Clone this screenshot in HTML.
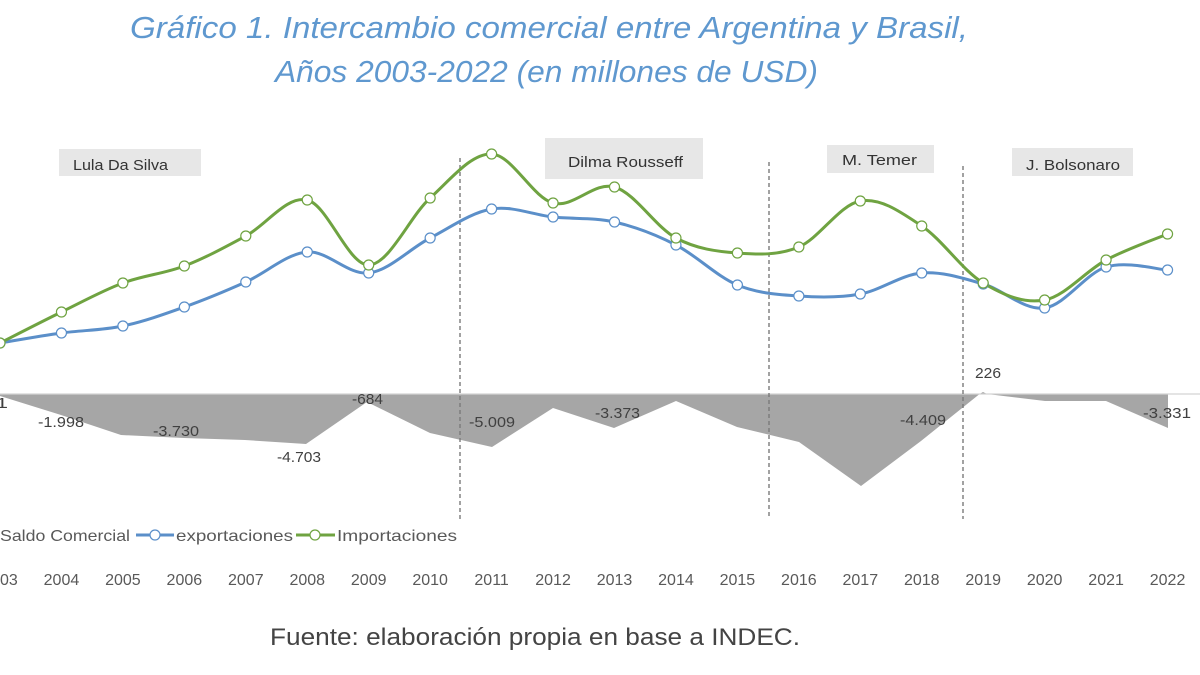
<!DOCTYPE html>
<html><head><meta charset="utf-8"><style>
html,body{margin:0;padding:0;background:#fff;width:1200px;height:675px;overflow:hidden}
svg{display:block}
text{font-family:"Liberation Sans",sans-serif}
</style></head><body>
<svg id="c" width="1200" height="675" viewBox="0 0 1200 675" xmlns="http://www.w3.org/2000/svg">
<rect width="1200" height="675" fill="#fff"/>
<!-- Title -->
<text x="130" y="38" font-size="31" font-style="italic" fill="#5f98cf" textLength="838" lengthAdjust="spacingAndGlyphs">Gráfico 1. Intercambio comercial entre Argentina y Brasil,</text>
<text x="275" y="82" font-size="31" font-style="italic" fill="#5f98cf" textLength="543" lengthAdjust="spacingAndGlyphs">Años 2003-2022 (en millones de USD)</text>

<!-- Saldo area -->
<polygon fill="#a6a6a6" points="0,394 0,396 61,415 121,435 184,438 245,440 306,444 367,402 430,433 492,447 553,408 614,428 676,401 737,427 799,442 861,486 921,441 979.6,394 983,392 987,394 1045,401 1106,401 1168,428 1168,394"/>
<line x1="0" y1="394" x2="1200" y2="394" stroke="#d4d4d4" stroke-width="1.2"/>

<!-- dashed separators -->
<g stroke="#7a7a7a" stroke-width="1.4" stroke-dasharray="4,3">
<line x1="460" y1="158" x2="460" y2="520"/>
<line x1="769" y1="162" x2="769" y2="519"/>
<line x1="963" y1="166" x2="963" y2="519"/>
</g>

<g id="series"></g>

<!-- Boxes -->
<rect x="59" y="149" width="142" height="27" fill="#e7e7e7"/>
<text x="73" y="170" font-size="15" fill="#333" textLength="95" lengthAdjust="spacingAndGlyphs">Lula Da Silva</text>
<rect x="545" y="138" width="158" height="41" fill="#e7e7e7"/>
<text x="568" y="167" font-size="15" fill="#333" textLength="115" lengthAdjust="spacingAndGlyphs">Dilma Rousseff</text>
<rect x="827" y="145" width="107" height="28" fill="#e7e7e7"/>
<text x="842" y="165" font-size="15" fill="#333" textLength="75" lengthAdjust="spacingAndGlyphs">M. Temer</text>
<rect x="1012" y="148" width="121" height="28" fill="#e7e7e7"/>
<text x="1026" y="170" font-size="15" fill="#333" textLength="94" lengthAdjust="spacingAndGlyphs">J. Bolsonaro</text>

<!-- Saldo labels -->
<g font-size="15" fill="#404040">
<text x="-4" y="408" textLength="12" lengthAdjust="spacingAndGlyphs">1</text>
<text x="38" y="427" textLength="46" lengthAdjust="spacingAndGlyphs">-1.998</text>
<text x="153" y="436" textLength="46" lengthAdjust="spacingAndGlyphs">-3.730</text>
<text x="277" y="462" textLength="44" lengthAdjust="spacingAndGlyphs">-4.703</text>
<text x="352" y="404" textLength="31" lengthAdjust="spacingAndGlyphs">-684</text>
<text x="469" y="427" textLength="46" lengthAdjust="spacingAndGlyphs">-5.009</text>
<text x="595" y="418" textLength="45" lengthAdjust="spacingAndGlyphs">-3.373</text>
<text x="900" y="425" textLength="46" lengthAdjust="spacingAndGlyphs">-4.409</text>
<text x="975" y="378" textLength="26" lengthAdjust="spacingAndGlyphs">226</text>
<text x="1143" y="418" textLength="48" lengthAdjust="spacingAndGlyphs">-3.331</text>
</g>

<!-- Legend -->
<g font-size="16" fill="#595959">
<text x="0" y="541" textLength="130" lengthAdjust="spacingAndGlyphs">Saldo Comercial</text>
<line x1="136" y1="535" x2="174" y2="535" stroke="#5b8fc9" stroke-width="3"/>
<circle cx="155" cy="535" r="5" fill="#fff" stroke="#5b8fc9" stroke-width="1.2"/>
<text x="176" y="541" textLength="117" lengthAdjust="spacingAndGlyphs">exportaciones</text>
<line x1="296" y1="535" x2="335" y2="535" stroke="#6fa341" stroke-width="3"/>
<circle cx="315" cy="535" r="5" fill="#fff" stroke="#6fa341" stroke-width="1.2"/>
<text x="337" y="541" textLength="120" lengthAdjust="spacingAndGlyphs">Importaciones</text>
</g>

<!-- Years -->
<g id="years" font-size="16" fill="#595959" text-anchor="middle"></g>

<!-- Footer -->
<text x="270" y="645" font-size="24" fill="#444" textLength="530" lengthAdjust="spacingAndGlyphs">Fuente: elaboración propia en base a INDEC.</text>
</svg>
<script>
(function(){
var NS="http://www.w3.org/2000/svg";
var step=61.45;
function X(i){return i*step;}
var green=[343,312,283,266,236,200,265,198,154,203,187,238,253,247,201,226,283,300,260,234];
var blue=[343,333,326,307,282,252,273,238,209,217,222,245,285,296,294,273,284,308,267,270];
function path(ys){
  var p=ys.map(function(y,i){return [X(i),y];});
  var d="M"+p[0][0]+","+p[0][1];
  for(var i=0;i<p.length-1;i++){
    var p0=p[i>0?i-1:i],p1=p[i],p2=p[i+1],p3=p[i+2<p.length?i+2:i+1];
    var c1x=p1[0]+(p2[0]-p0[0])/6,c1y=p1[1]+(p2[1]-p0[1])/6;
    var c2x=p2[0]-(p3[0]-p1[0])/6,c2y=p2[1]-(p3[1]-p1[1])/6;
    d+=" C"+c1x.toFixed(2)+","+c1y.toFixed(2)+" "+c2x.toFixed(2)+","+c2y.toFixed(2)+" "+p2[0].toFixed(2)+","+p2[1];
  }
  return d;
}
var g=document.getElementById("series");
function add(ys,col){
  var pa=document.createElementNS(NS,"path");
  pa.setAttribute("d",path(ys));pa.setAttribute("fill","none");
  pa.setAttribute("stroke",col);pa.setAttribute("stroke-width","3");
  pa.setAttribute("stroke-linejoin","round");
  g.appendChild(pa);
}
function marks(ys,col){
  ys.forEach(function(y,i){
    var c=document.createElementNS(NS,"circle");
    c.setAttribute("cx",X(i));c.setAttribute("cy",y);c.setAttribute("r","5");
    c.setAttribute("fill","#fff");c.setAttribute("stroke",col);c.setAttribute("stroke-width","1.2");
    g.appendChild(c);
  });
}
add(blue,"#5b8fc9");
add(green,"#6fa341");
marks(blue,"#5b8fc9");
marks(green,"#6fa341");
var yg=document.getElementById("years");
for(var i=0;i<20;i++){
  var t=document.createElementNS(NS,"text");
  t.setAttribute("x",X(i));t.setAttribute("y","585");
  t.textContent=String(2003+i);
  yg.appendChild(t);
}
})();
</script>
</body></html>
